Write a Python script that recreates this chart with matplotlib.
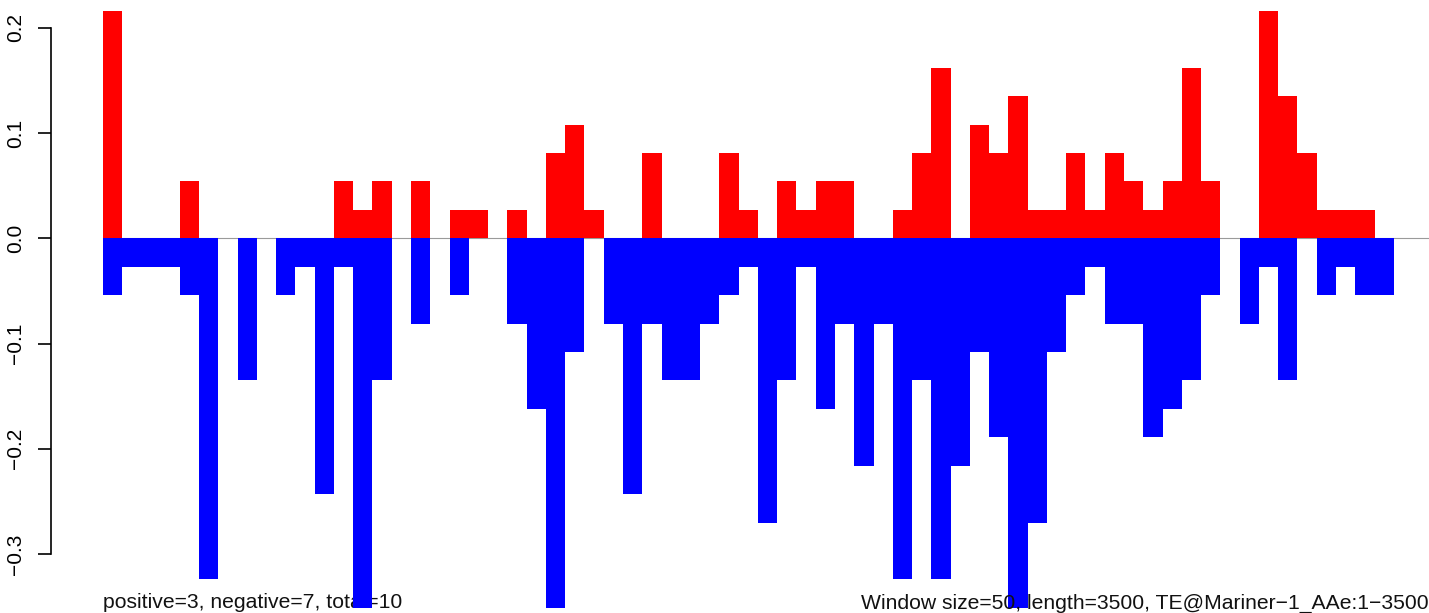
import matplotlib
matplotlib.use("Agg")
import matplotlib.pyplot as plt

plt.rcParams['font.family'] = ['Liberation Sans', 'DejaVu Sans']

# ---- data -------------------------------------------------------------
window_size = 50
seq_length = 3500
# window start positions (bp)
window_starts = [i * window_size for i in range(67)]

positive_vals = [0.216, 0, 0, 0, 0.054, 0, 0, 0, 0, 0,
                 0, 0, 0.054, 0.027, 0.054, 0, 0.054, 0, 0.027, 0.027,
                 0, 0.027, 0, 0.081, 0.108, 0.027, 0, 0, 0.081, 0,
                 0, 0, 0.081, 0.027, 0, 0.054, 0.027, 0.054, 0.054, 0,
                 0, 0.027, 0.081, 0.162, 0, 0.108, 0.081, 0.135, 0.027, 0.027,
                 0.081, 0.027, 0.081, 0.054, 0.027, 0.054, 0.162, 0.054, 0, 0,
                 0.216, 0.135, 0.081, 0.027, 0.027, 0.027, 0]

negative_vals = [-0.054, -0.027, -0.027, -0.027, -0.054, -0.324, 0, -0.135, 0, -0.054,
                 -0.027, -0.243, -0.027, -0.351, -0.135, 0, -0.081, 0, -0.054, 0,
                 0, -0.081, -0.162, -0.351, -0.108, 0, -0.081, -0.243, -0.081, -0.135,
                 -0.135, -0.081, -0.054, -0.027, -0.270, -0.135, -0.027, -0.162, -0.081, -0.216,
                 -0.081, -0.324, -0.135, -0.324, -0.216, -0.108, -0.189, -0.351, -0.270, -0.108,
                 -0.054, -0.027, -0.081, -0.081, -0.189, -0.162, -0.135, -0.054, 0, -0.081,
                 -0.027, -0.135, 0, -0.054, -0.027, -0.054, -0.054]

y_ticks = [-0.3, -0.2, -0.1, 0.0, 0.1, 0.2]
y_tick_labels = ['\u22120.3', '\u22120.2', '\u22120.1', '0.0', '0.1', '0.2']

left_note = "positive=3, negative=7, total=10"
right_note = "Window size=50, length=3500, TE@Mariner\u22121_AAe:1\u22123500"

# ---- layout (pixels) --------------------------------------------------
W, H = 1429, 613
fig = plt.figure(figsize=(W / 100, H / 100), dpi=100)

px_per_bp = 19.27 / 50.0
x0_px = 102.7
ax_left_px = 50.5
xlim_left = (ax_left_px - x0_px) / px_per_bp
xlim_right = 3640
ax_w_px = (xlim_right - xlim_left) * px_per_bp
ylim = (-0.3514, 0.2162)
ax_top_px, ax_bot_px = 10.6, 608.3

ax = fig.add_axes([ax_left_px / W, (H - ax_bot_px) / H,
                   ax_w_px / W, (ax_bot_px - ax_top_px) / H])
ax.set_xlim(xlim_left, xlim_right)
ax.set_ylim(*ylim)
ax.patch.set_alpha(0)

ax.hlines(0, 0, xlim_right, color='#9a9a9a', lw=0.8, zorder=1)
ax.bar(window_starts, positive_vals, width=window_size, align='edge',
       color='#FF0000', linewidth=0, zorder=2)
ax.bar(window_starts, negative_vals, width=window_size, align='edge',
       color='#0000FF', linewidth=0, zorder=2)

for s in ['top', 'right', 'bottom']:
    ax.spines[s].set_visible(False)
ax.spines['left'].set_bounds(-0.3, 0.2)
ax.spines['left'].set_linewidth(1.2)
ax.set_xticks([])
ax.set_yticks(y_ticks)
ax.set_yticklabels(y_tick_labels, rotation=90, va='center')
ax.tick_params(axis='y', length=9.4, width=1.2, pad=9, labelsize=15)

ax.text(103.3 / W, 4.5 / H, left_note, transform=fig.transFigure,
        ha='left', va='baseline', fontsize=15.2, color='#111111',
        zorder=1.5, clip_on=False)
ax.text(1428.5 / W, 4.5 / H, right_note, transform=fig.transFigure,
        ha='right', va='baseline', fontsize=15.2, color='#111111',
        zorder=3, clip_on=False)

fig.savefig("out.png", dpi=100)
